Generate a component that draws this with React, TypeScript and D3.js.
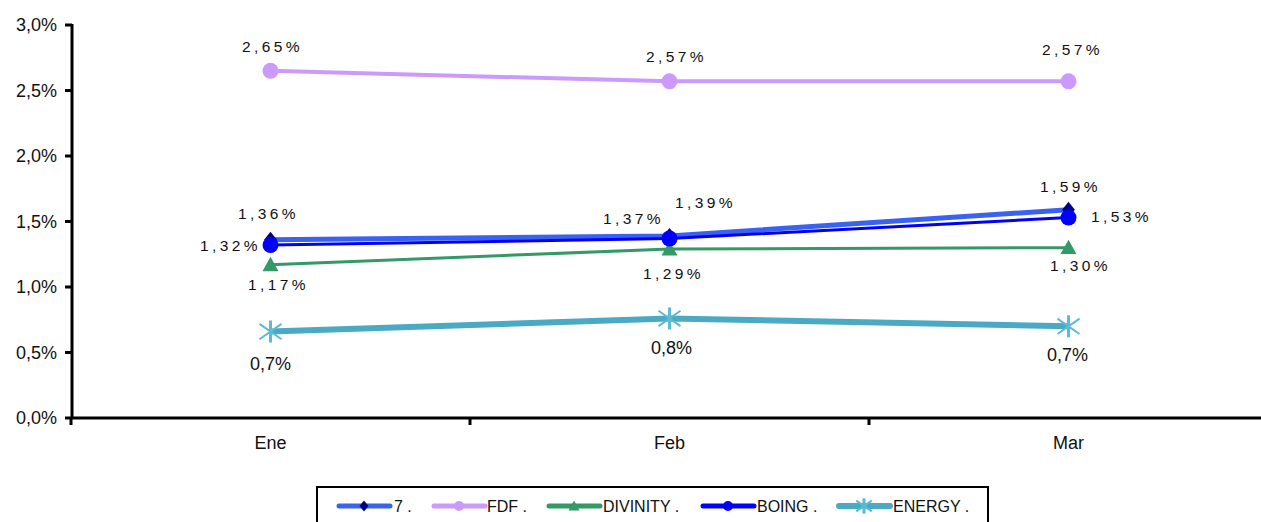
import React from "react";
import * as d3 from "d3";

const categories = ["Ene", "Feb", "Mar"];
const seriesNames = ["7 .", "FDF .", "DIVINITY .", "BOING .", "ENERGY ."];
const values7 = [1.36, 1.39, 1.59];
const valuesFDF = [2.65, 2.57, 2.57];
const valuesDivinity = [1.17, 1.29, 1.3];
const valuesBoing = [1.32, 1.37, 1.53];
const valuesEnergy = [0.66, 0.76, 0.7];
const yTicks = [0, 0.5, 1, 1.5, 2, 2.5, 3];

// label offsets (styling) per series per point
const labelOffsets = [
  [[-2, -26], [36, -33], [2, -23]],
  [[2, -24], [7, -25], [4, -32]],
  [[8, 20], [4, 25], [12, 18]],
  [[-40, 0], [-36, -20], [53, -1]],
  [[0, 32], [2, 29], [-1, 28]],
];

const styles = [
  { color: "#3A62F0", width: 5, marker: "diamond", mcolor: "#000080", decimals: 2 },
  { color: "#CC99FF", width: 4, marker: "circle", mcolor: "#CC99FF", decimals: 2 },
  { color: "#339966", width: 3, marker: "triangle", mcolor: "#339966", decimals: 2 },
  { color: "#0000FF", width: 3, marker: "circle", mcolor: "#0000FF", decimals: 2 },
  { color: "#4AAAC4", width: 6, marker: "asterisk", mcolor: "#5BBAD5", decimals: 1 },
];

const allValues = [values7, valuesFDF, valuesDivinity, valuesBoing, valuesEnergy];

function Marker({ type, x, y, color, small }: any) {
  const s = small ? 0.7 : 1;
  if (type === "diamond") {
    const r = 8 * s;
    return <path d={`M${x},${y - r}L${x + r * 0.8},${y}L${x},${y + r}L${x - r * 0.8},${y}Z`} fill={color} />;
  }
  if (type === "circle") {
    return <circle cx={x} cy={y} r={small ? 5 : 8} fill={color} />;
  }
  if (type === "triangle") {
    const r = 8 * s;
    return <path d={`M${x},${y - r}L${x + r},${y + r * 0.8}L${x - r},${y + r * 0.8}Z`} fill={color} />;
  }
  const r = 11 * s;
  return (
    <g stroke={color} strokeWidth={2}>
      <line x1={x - r} y1={y - r * 0.7} x2={x + r} y2={y + r * 0.7} />
      <line x1={x - r} y1={y + r * 0.7} x2={x + r} y2={y - r * 0.7} />
      <line x1={x} y1={y - r} x2={x} y2={y + r} strokeWidth={3} />
    </g>
  );
}

export default function App() {
  const W = 1261, H = 522;
  const x = d3.scaleBand().domain(categories).range([71, 1268]);
  const y = d3.scaleLinear().domain([0, 3]).range([418, 25]);
  const cx = (c: string) => (x(c) as number) + x.bandwidth() / 2;
  const fmtPct = (v: number, d: number) => v.toFixed(d).replace(".", ",") + "%";
  const line = d3.line<number>().x((_, i) => cx(categories[i])).y((v) => y(v));
  const font = "'Liberation Sans', Arial, sans-serif";
  const bounds = [...categories.map((c) => x(c) as number), 1268];

  const legendX = [339, 434, 549, 703, 839];
  const legendTextX = [394, 487, 603, 757, 893];

  return (
    <svg width={W} height={H} style={{ position: "absolute", left: 0, top: 0 }} fontFamily={font}>
      <rect width={W} height={H} fill="white" />
      {/* axes */}
      <line x1={72} y1={24} x2={72} y2={419} stroke="black" strokeWidth={3} />
      <line x1={71} y1={418} x2={W} y2={418} stroke="black" strokeWidth={3} />
      {yTicks.map((t) => (
        <g key={t}>
          <line x1={65} x2={72} y1={y(t)} y2={y(t)} stroke="black" strokeWidth={3} />
          <text x={57} y={y(t)} dy="0.35em" textAnchor="end" fontSize={18} fill="#111">
            {t.toFixed(1).replace(".", ",") + "%"}
          </text>
        </g>
      ))}
      {bounds.map((b, i) => (
        <line key={i} x1={b} x2={b} y1={418} y2={425} stroke="black" strokeWidth={3} />
      ))}
      {categories.map((c) => (
        <text key={c} x={cx(c)} y={449} textAnchor="middle" fontSize={18} fill="#111">
          {c}
        </text>
      ))}
      {/* lines */}
      {allValues.map((vals, si) => (
        <path key={"l" + si} d={line(vals) || ""} fill="none" stroke={styles[si].color} strokeWidth={styles[si].width} />
      ))}
      {allValues.map((vals, si) => (
        <g key={"m" + si}>
          {vals.map((v, i) => (
            <Marker key={i} type={styles[si].marker} x={cx(categories[i])} y={y(v)} color={styles[si].mcolor} />
          ))}
        </g>
      ))}
      {/* labels */}
      {allValues.map((vals, si) => (
        <g key={"t" + si}>
          {vals.map((v, i) => {
            const [dx, dy] = labelOffsets[si][i];
            const isE = si === 4;
            return (
              <text
                key={i}
                x={cx(categories[i]) + dx}
                y={y(v) + dy}
                dy="0.35em"
                textAnchor="middle"
                fontSize={isE ? 18 : 15.5}
                letterSpacing={isE ? 0 : 3.4}
                fill="#111"
              >
                {fmtPct(v, styles[si].decimals)}
              </text>
            );
          })}
        </g>
      ))}
      {/* legend */}
      <rect x={317} y={487} width={671} height={40} fill="white" stroke="black" strokeWidth={2} />
      {seriesNames.map((n, i) => (
        <g key={n}>
          <line x1={legendX[i]} x2={legendX[i] + 51} y1={506} y2={506} stroke={styles[i].color} strokeWidth={Math.max(styles[i].width, 5)} strokeLinecap="round" />
          <Marker type={styles[i].marker} x={legendX[i] + 25} y={506} color={styles[i].mcolor} small />
          <text x={legendTextX[i]} y={506} dy="0.36em" fontSize={16} fill="#111">
            {n}
          </text>
        </g>
      ))}
    </svg>
  );
}
